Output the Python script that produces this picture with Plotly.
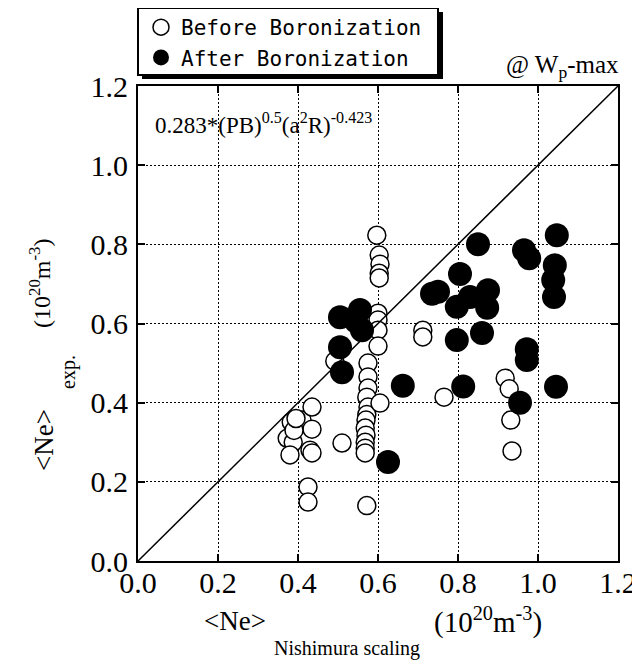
import plotly.graph_objects as go

# ---- data ----
before_x = [0.383, 0.41, 0.435, 0.435, 0.373, 0.388, 0.38, 0.43, 0.435, 0.425, 0.425, 0.39, 0.395,
            0.575, 0.575, 0.575, 0.572, 0.575, 0.572, 0.57, 0.568, 0.57, 0.568, 0.568, 0.568, 0.572, 0.605,
            0.597, 0.603, 0.605, 0.603, 0.603, 0.60, 0.60, 0.60, 0.60,
            0.51, 0.492, 0.712, 0.712, 0.765, 0.918, 0.928, 0.932, 0.935]
before_y = [0.351, 0.356, 0.389, 0.333, 0.31, 0.30, 0.268, 0.28, 0.273, 0.187, 0.149, 0.33, 0.36,
            0.50, 0.465, 0.437, 0.414, 0.389, 0.37, 0.356, 0.336, 0.318, 0.30, 0.285, 0.273, 0.14, 0.399,
            0.823, 0.773, 0.75, 0.727, 0.715, 0.626, 0.609, 0.583, 0.543,
            0.298, 0.505, 0.583, 0.566, 0.414, 0.462, 0.435, 0.356, 0.278]

after_x = [0.505, 0.545, 0.555, 0.56, 0.505, 0.51, 0.662, 0.625, 0.735, 0.75, 0.805, 0.83, 0.797,
           0.875, 0.873, 0.85, 0.86, 0.797, 0.813, 0.965, 0.978, 1.047, 1.042, 1.038, 1.04,
           0.972, 0.972, 0.955, 1.045]
after_y = [0.616, 0.605, 0.634, 0.583, 0.54, 0.477, 0.443, 0.25, 0.675, 0.68, 0.725, 0.667, 0.642,
           0.684, 0.64, 0.80, 0.576, 0.558, 0.441, 0.785, 0.765, 0.823, 0.747, 0.71, 0.667,
           0.535, 0.508, 0.40, 0.44]

diag = [0.0, 1.2]
tick_vals = [0.0, 0.2, 0.4, 0.6, 0.8, 1.0, 1.2]
tick_text = ["0.0", "0.2", "0.4", "0.6", "0.8", "1.0", "1.2"]

# ---- figure (page body has an 8px margin, so the figure is 632x656) ----
W, H = 632, 656
L, R, T, B = 130, 22, 78, 103
pw, ph = W - L - R, H - T - B
OFF = 8  # body margin


def px(xs):  # screen x -> paper x
    return (xs - OFF - L) / pw


def py(ys):  # screen y -> paper y
    return (H - B - (ys - OFF)) / ph


serif = "Liberation Serif"
fig = go.Figure()
fig.add_trace(go.Scatter(x=before_x, y=before_y, mode="markers", name="Before Boronization",
                         marker=dict(symbol="circle", size=18, color="white",
                                     line=dict(color="black", width=1.5))))
fig.add_trace(go.Scatter(x=after_x, y=after_y, mode="markers", name="After Boronization",
                         marker=dict(symbol="circle", size=24, color="black",
                                     line=dict(color="black", width=0))))
fig.add_trace(go.Scatter(x=diag, y=diag, mode="lines", showlegend=False,
                         line=dict(color="black", width=1.5)))

axis_common = dict(range=[0, 1.2], tickvals=tick_vals, ticktext=tick_text,
                   showline=True, linecolor="black", linewidth=2, mirror="ticks",
                   ticks="inside", ticklen=7, tickwidth=1.5, tickcolor="black",
                   showgrid=True, gridcolor="black", gridwidth=1, griddash="2px,2px",
                   zeroline=False, automargin=False,
                   tickfont=dict(family=serif, size=30, color="black"))

fig.update_layout(
    width=W, height=H,
    margin=dict(l=L, r=R, t=T, b=B, autoexpand=False),
    plot_bgcolor="white", paper_bgcolor="white",
    xaxis=dict(axis_common, ticklabelstandoff=-6),
    yaxis=dict(axis_common, ticklabelstandoff=2),
    showlegend=True,
    legend=dict(x=px(141), y=py(7), xanchor="left", yanchor="top",
                bgcolor="rgba(0,0,0,0)", borderwidth=0,
                font=dict(family="DejaVu Sans Mono", size=21, color="black"),
                tracegroupgap=0),
    shapes=[
        dict(type="rect", xref="paper", yref="paper", x0=px(142), x1=px(443), y0=py(79), y1=py(12),
             fillcolor="black", line=dict(width=0), layer="above"),
        dict(type="rect", xref="paper", yref="paper", x0=px(138), x1=px(438), y0=py(75), y1=py(8),
             fillcolor="white", line=dict(color="black", width=2), layer="above"),
    ],
    annotations=[
        dict(xref="paper", yref="paper", x=px(153), y=py(124), xanchor="left", yanchor="middle",
             text="0.283*(PB)<sup>0.5</sup>(a<sup>2</sup>R)<sup>-0.423</sup>", showarrow=False,
             font=dict(family=serif, size=23, color="black")),
        dict(xref="paper", yref="paper", x=px(621), y=py(66), xanchor="right", yanchor="middle",
             text="@ W<sub>p</sub>-max", showarrow=False,
             font=dict(family=serif, size=25, color="black")),
        # x-axis title pieces
        dict(xref="paper", yref="paper", x=px(202), y=py(621), xanchor="left", yanchor="middle",
             text="&lt;Ne&gt;", showarrow=False, font=dict(family=serif, size=27, color="black")),
        dict(xref="paper", yref="paper", x=px(272), y=py(648), xanchor="left", yanchor="middle",
             text="Nishimura scaling", showarrow=False, font=dict(family=serif, size=20, color="black")),
        dict(xref="paper", yref="paper", x=px(432), y=py(620), xanchor="left", yanchor="middle",
             text="(10<sup>20</sup>m<sup>-3</sup>)", showarrow=False,
             font=dict(family=serif, size=29, color="black")),
        # y-axis title pieces (rotated)
        dict(xref="paper", yref="paper", x=px(44), y=py(440), xanchor="center", yanchor="middle",
             textangle=-90, text="&lt;Ne&gt;", showarrow=False,
             font=dict(family=serif, size=27, color="black")),
        dict(xref="paper", yref="paper", x=px(68), y=py(372), xanchor="center", yanchor="middle",
             textangle=-90, text="exp.", showarrow=False,
             font=dict(family=serif, size=20, color="black")),
        dict(xref="paper", yref="paper", x=px(40), y=py(284), xanchor="center", yanchor="middle",
             textangle=-90, text="(10<sup>20</sup>m<sup>-3</sup>)", showarrow=False,
             font=dict(family=serif, size=24, color="black")),
    ],
)

fig.write_html("out.html")
